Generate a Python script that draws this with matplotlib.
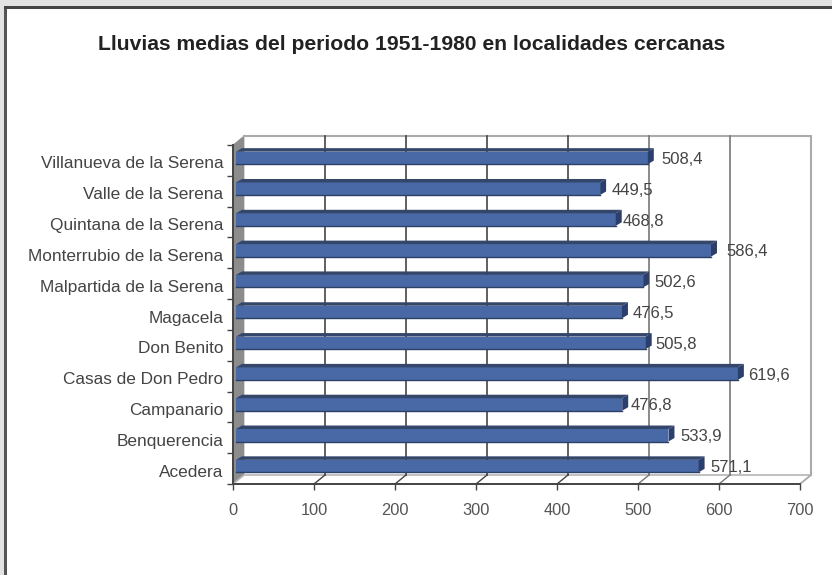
import matplotlib
matplotlib.use("Agg")
import matplotlib.pyplot as plt
from matplotlib.patches import Polygon, Rectangle
from matplotlib.transforms import ScaledTranslation

plt.rcParams['font.family'] = ['Liberation Sans', 'DejaVu Sans']

title = "Lluvias medias del periodo 1951-1980 en localidades cercanas"
localidades = ["Acedera", "Benquerencia", "Campanario", "Casas de Don Pedro", "Don Benito", "Magacela",
			   "Malpartida de la Serena", "Monterrubio de la Serena", "Quintana de la Serena",
			   "Valle de la Serena", "Villanueva de la Serena"]
lluvias = [571.1, 533.9, 476.8, 619.6, 505.8, 476.5, 502.6, 586.4, 468.8, 449.5, 508.4]
etiquetas = ["571,1", "533,9", "476,8", "619,6", "505,8", "476,5", "502,6", "586,4", "468,8", "449,5", "508,4"]
x_ticks = [0, 100, 200, 300, 400, 500, 600, 700]

# label gap from the value, in pixels (the labels were moved by hand in the original)
label_gap = [15, 15, 11, 13, 13, 14, 14, 18, 10, 15, 17]
grid_colors = ["#444444", "#444444", "#444444", "#444444", "#444444", "#777777", "#777777", "#aaaaaa"]

fig = plt.figure(figsize=(8.32, 5.75), dpi=100, facecolor="white")

# window frame of the screenshot
fig.patches.append(Rectangle((0, 566 / 575), 1, 9 / 575, transform=fig.transFigure, color="#e2e2e2", lw=0))
fig.patches.append(Rectangle((0, 0), 4 / 832, 1, transform=fig.transFigure, color="#e2e2e2", lw=0))
fig.patches.append(Rectangle((4 / 832, 0), 2.5 / 832, 569 / 575, transform=fig.transFigure, color="#555555", lw=0))
fig.patches.append(Rectangle((4 / 832, 566.5 / 575), 828 / 832, 2.5 / 575, transform=fig.transFigure, color="#444444", lw=0))

ax = fig.add_axes([233 / 832, 91 / 575, 567 / 832, 339 / 575])
ax.set_xlim(0, 700)
ax.set_ylim(-0.5, 10.5)
ax.patch.set_alpha(0)

px_x = 700 / 567
px_y = 11 / 339
depth_x = 11 * px_x
depth_y = 9 * px_y
y_bottom, y_top = -0.5, 10.5

# side wall and floor of the 3d box
ax.add_patch(Polygon([(0, y_bottom), (depth_x, y_bottom + depth_y), (depth_x, y_top + depth_y), (0, y_top)],
					 closed=True, fc="#8c8c8c", ec="#8c8c8c", lw=0.5, clip_on=False, zorder=1))
ax.add_patch(Polygon([(0, y_bottom), (700, y_bottom), (700 + depth_x, y_bottom + depth_y), (depth_x, y_bottom + depth_y)],
					 closed=True, fc="white", ec="#b5b5b5", lw=1.2, clip_on=False, zorder=1))

# back wall, with the gridlines and the little diagonals on the floor
ax.plot([depth_x, 700 + depth_x, 700 + depth_x], [y_top + depth_y, y_top + depth_y, y_bottom + depth_y],
		color="#aaaaaa", lw=1.5, clip_on=False, zorder=1)
for tick, col in zip(x_ticks[1:], grid_colors[1:]):
	ax.plot([tick + depth_x] * 2, [y_bottom + depth_y, y_top + depth_y], color=col, lw=1.2, clip_on=False, zorder=2)
	ax.plot([tick, tick + depth_x], [y_bottom, y_bottom + depth_y], color=col, lw=1, clip_on=False, zorder=2)

# bars: front face, top face and end cap
offset = 3 * px_x
cap_x = 6 * px_x
cap_y = 3.5 * px_y
face_h = 12.5 * px_y
shift = 2.5 * px_y
for y, val in zip(range(len(lluvias)), lluvias):
	y_low = y + shift - face_h / 2
	y_high = y + shift + face_h / 2
	ax.barh(y + shift, val, height=face_h, left=offset, color="#4869a6", edgecolor="none", zorder=3)
	ax.plot([offset, offset + val], [y_low, y_low], color="#2c4066", lw=1, zorder=4)
	ax.add_patch(Polygon([(offset, y_high), (offset + val, y_high), (offset + val + cap_x, y_high + cap_y), (offset + cap_x, y_high + cap_y)],
						 closed=True, fc="#34466a", ec="none", zorder=3))
	ax.add_patch(Polygon([(offset + val, y_low), (offset + val + cap_x, y_low + cap_y), (offset + val + cap_x, y_high + cap_y), (offset + val, y_high)],
						 closed=True, fc="#2b3f6e", ec="none", zorder=3))

for y, val, txt, gap in zip(range(len(lluvias)), lluvias, etiquetas, label_gap):
	ax.text(val + gap * px_x, y + 1 * px_y, txt, ha="left", va="center", fontsize=12, color="#444444", zorder=5)

for side in ["top", "right"]:
	ax.spines[side].set_visible(False)
for side in ["left", "bottom"]:
	ax.spines[side].set_color("#444444")
	ax.spines[side].set_linewidth(1.4)
	ax.spines[side].set_zorder(6)

ax.set_xticks(x_ticks)
ax.set_xticklabels([str(t) for t in x_ticks])
ax.tick_params(axis="x", length=4, width=1, color="#444444", pad=10, labelsize=11.8, labelcolor="#555555")

ax.set_yticks(range(len(localidades)))
ax.set_yticklabels(localidades)
ax.set_yticks([y - 0.5 for y in range(len(localidades) + 1)], minor=True)
ax.tick_params(axis="y", which="major", length=0, pad=7, labelsize=12.4, labelcolor="#444444")
ax.tick_params(axis="y", which="minor", length=4, width=1, color="#444444")
nudge = ScaledTranslation(0, -2 / 100, fig.dpi_scale_trans)
for label in ax.get_yticklabels():
	label.set_transform(label.get_transform() + nudge)

fig.text(412 / 832, 1 - 45 / 575, title, ha="center", va="center", fontsize=15.2, fontweight="bold", color="#222222")

fig.savefig("out.png", dpi=100)
